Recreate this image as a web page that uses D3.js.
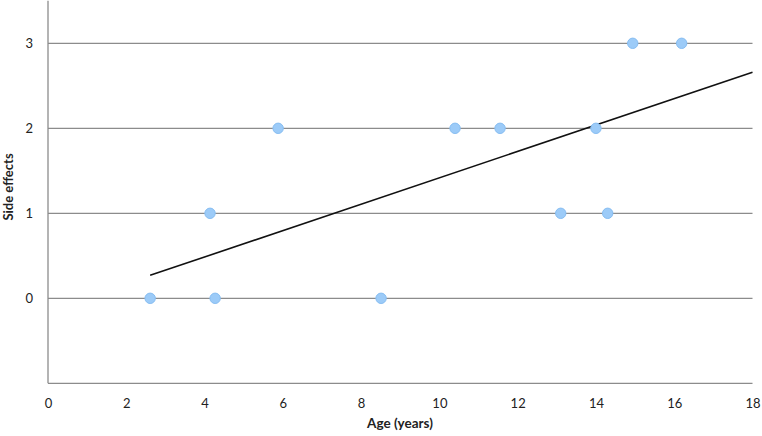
<!DOCTYPE html>
<html>
<head>
<meta charset="utf-8">
<script src="https://cdn.jsdelivr.net/npm/d3@7"></script>
<style>
  html, body { margin: 0; padding: 0; background: #fff; }
  svg { display: block; }
  text { font-family: Lato, "Open Sans", "Liberation Sans", sans-serif; }
</style>
</head>
<body>
<svg id="chart" width="762" height="436"></svg>
<script>
const ageYears = [2.61, 4.27, 8.51, 4.14, 5.88, 10.40, 11.55, 14.00, 13.10, 14.30, 14.94, 16.19];
const sideEffects = [0, 0, 0, 1, 2, 2, 2, 2, 1, 1, 3, 3];
const fitX = [2.61, 18];
const fitY = [0.27, 2.66];
const xTicks = [0, 2, 4, 6, 8, 10, 12, 14, 16, 18];
const yTicks = [0, 1, 2, 3];
const xTitle = "Age (years)";
const yTitle = "Side effects";

(function () {
const svg = d3.select("#chart");
const mLeft = 48, mRight = 752.5, mTop = 0.8, mBottom = 383.3;
const font = "Lato, 'Open Sans', 'Liberation Sans', sans-serif";

const x = d3.scaleLinear().domain([0, 18]).range([mLeft, mRight]);
const y = d3.scaleLinear().domain([-1, 3.5]).range([mBottom, mTop]);

// gridlines
svg.append("g").selectAll("line").data(yTicks).join("line")
  .attr("x1", mLeft).attr("x2", mRight)
  .attr("y1", d => y(d)).attr("y2", d => y(d))
  .attr("stroke", "#8c8c8c").attr("stroke-width", 1.3);

// axes lines
svg.append("line").attr("x1", mLeft).attr("x2", mLeft).attr("y1", mTop).attr("y2", mBottom)
  .attr("stroke", "#8c8c8c").attr("stroke-width", 1.3);
svg.append("line").attr("x1", mLeft).attr("x2", mRight).attr("y1", mBottom).attr("y2", mBottom)
  .attr("stroke", "#8c8c8c").attr("stroke-width", 1.3);

// x axis tick labels
const xAxis = d3.axisBottom(x).tickValues(xTicks).tickSize(0).tickPadding(0).tickFormat(d3.format("d"));
const gx = svg.append("g").attr("transform", `translate(0,${mBottom})`).call(xAxis);
gx.select(".domain").remove();
gx.selectAll("text").attr("dy", null).attr("y", 25)
  .attr("font-size", 13).attr("fill", "#222").attr("font-family", font);

// y axis tick labels
const yAxis = d3.axisLeft(y).tickValues(yTicks).tickSize(0).tickPadding(0).tickFormat(d3.format("d"));
const gy = svg.append("g").attr("transform", `translate(${mLeft},0)`).call(yAxis);
gy.select(".domain").remove();
gy.selectAll("text").attr("x", -15).attr("dy", "0.35em")
  .attr("font-size", 13).attr("fill", "#222").attr("font-family", font);

// fit line
svg.append("line")
  .attr("x1", x(fitX[0])).attr("y1", y(fitY[0]))
  .attr("x2", x(fitX[1])).attr("y2", y(fitY[1]))
  .attr("stroke", "#111").attr("stroke-width", 1.6);

// points
svg.append("g").selectAll("circle").data(ageYears.map((a, i) => [a, sideEffects[i]])).join("circle")
  .attr("cx", d => x(d[0])).attr("cy", d => y(d[1])).attr("r", 5.2)
  .attr("fill", "#9ccbf8").attr("stroke", "#86bdf2").attr("stroke-width", 1);

// titles
svg.append("text").attr("x", 400).attr("y", 428)
  .attr("text-anchor", "middle").attr("font-size", 13.5).attr("font-weight", "bold").attr("fill", "#222")
  .attr("font-family", font).text(xTitle);
svg.append("text").attr("transform", `translate(13,187) rotate(-90)`)
  .attr("text-anchor", "middle").attr("font-size", 13).attr("font-weight", "bold").attr("fill", "#222")
  .attr("font-family", font).text(yTitle);
})();
</script>
</body>
</html>
